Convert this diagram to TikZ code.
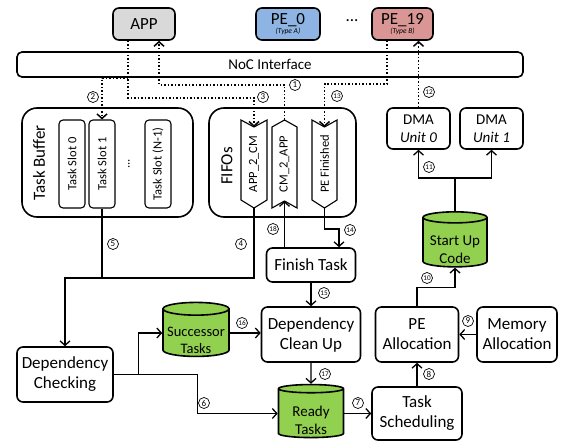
\documentclass[tikz,border=0pt]{standalone}
\usepackage{fontspec}
\setmainfont{Carlito}
\usetikzlibrary{arrows.meta,shapes.geometric}
\definecolor{appgray}{HTML}{D9D9D9}
\definecolor{peblue}{HTML}{8EB4E3}
\definecolor{pered}{HTML}{D99694}
\definecolor{dbgreen}{HTML}{92D050}
\newcommand{\dblabel}[1]{\raisebox{-12pt}[0pt][0pt]{\begin{tabular}{@{}c@{}}#1\end{tabular}}}
\begin{document}
\begin{tikzpicture}[x=1pt,y=-1pt,
  box/.style={draw,line width=1.6pt,rounded corners=6pt,fill=white,align=center,inner sep=1pt},
  big/.style={font=\fontsize{17}{20}\selectfont},
  med/.style={font=\fontsize{15}{18}\selectfont},
  small/.style={font=\fontsize{12.5}{14}\selectfont},
  slotbox/.style={draw,line width=1.1pt,rounded corners=4pt,minimum width=26pt,minimum height=88pt,inner sep=0pt,small},
  chev/.style={draw,line width=1.1pt,line join=miter},
  conn/.style={line width=1.3pt,-{Straight Barb[length=4.5pt,width=10pt]}},
  plainline/.style={line width=1.3pt},
  dots/.style={line width=1.5pt,dotted,-{Straight Barb[length=4.5pt,width=10pt]}},
  num/.style={circle,draw,fill=white,line width=0.7pt,inner sep=0pt,minimum size=11pt,font=\fontsize{9}{9}\selectfont},
  numtwo/.style={num,font=\fontsize{7.2}{7.2}\selectfont},
  db/.style={cylinder,shape border rotate=90,draw,line width=1.6pt,fill=dbgreen,aspect=0.22,inner sep=0pt}
]
\useasboundingbox[fill=white] (0,0) rectangle (567,441);

% top row
\node[box,big,fill=appgray,minimum width=62pt,minimum height=32pt] (app) at (144,24) {APP};
\node[box,fill=peblue,minimum width=64pt,minimum height=32pt,inner sep=0pt] (pe0) at (288,24)
  {{\fontsize{17}{17}\selectfont PE\_0}\\[-3pt]{\fontsize{7.5}{8}\selectfont\itshape (Type A)}};
\node[big] (pedots) at (352,21) {...};
\node[box,fill=pered,minimum width=61pt,minimum height=32pt,inner sep=0pt] (pe19) at (402.5,24)
  {{\fontsize{17}{17}\selectfont PE\_19}\\[-3pt]{\fontsize{7.5}{8}\selectfont\itshape (Type B)}};
\node[box,med,rounded corners=5pt,minimum width=506pt,minimum height=25pt] (noc) at (270,64.5) {NoC Interface};

% task buffer
\node[box,rounded corners=15pt,minimum width=171pt,minimum height=109pt] (tb) at (107.5,162.5) {};
\node[big] (tblab) at (39,163) {\rotatebox{90}{Task Buffer}};
\node[slotbox] (ts0) at (72,164) {\rotatebox{90}{Task Slot 0}};
\node[slotbox] (ts1) at (102,164) {\rotatebox{90}{Task Slot 1}};
\node[small] (tsdots) at (129,164) {\rotatebox{90}{...}};
\node[slotbox] (tsn) at (158,164) {\rotatebox{90}{Task Slot (N-1)}};

% FIFOs
\node[box,rounded corners=15pt,minimum width=147pt,minimum height=109pt] (fifo) at (282.5,162.5) {};
\node[big] (fifolab) at (227,166) {\rotatebox{90}{FIFOs}};
\draw[chev] (241,120) -- (254,127) -- (267,120) -- (267,200) -- (254,208) -- (241,200) -- cycle;
\draw[chev] (272,127) -- (284.5,120) -- (297,127) -- (297,208) -- (284.5,201) -- (272,208) -- cycle;
\draw[chev] (312,120) -- (324.5,127) -- (337,120) -- (337,200) -- (324.5,208) -- (312,200) -- cycle;
\node[small] (a2c) at (254,164) {\rotatebox{90}{APP\_2\_CM}};
\node[small] (c2a) at (284.5,164) {\rotatebox{90}{CM\_2\_APP}};
\node[small] (pef) at (324.5,164) {\rotatebox{90}{PE Finished}};
\coordinate (a2ctop) at (254,127);
\coordinate (a2cbot) at (254,208);
\coordinate (c2atop) at (284.5,120);
\coordinate (c2abot) at (284.5,201);
\coordinate (peftop) at (324.5,127);
\coordinate (pefbot) at (324.5,208);

% DMA
\node[box,med,minimum width=63pt,minimum height=41pt] (dma0) at (418.5,128.5) {DMA\\\textit{Unit 0}};
\node[box,med,minimum width=63pt,minimum height=41pt] (dma1) at (491.5,128.5) {DMA\\\textit{Unit 1}};
\node[db,med,minimum width=64pt,minimum height=55pt] (startup) at (455,242.5) {\dblabel{Start Up\\Code}};

% lower part
\node[box,big,minimum width=89pt,minimum height=34pt] (finish) at (311,265) {Finish Task};
\node[box,big,minimum width=96pt,minimum height=55pt] (depchk) at (65,374.5) {Dependency\\Checking};
\node[db,font=\fontsize{14.5}{17.5}\selectfont,minimum width=66pt,minimum height=54pt] (succ) at (196,333) {\dblabel{Successor\\Tasks}};
\node[box,big,minimum width=99pt,minimum height=55pt] (depcl) at (311,334.5) {Dependency\\Clean Up};
\node[db,med,minimum width=65pt,minimum height=53pt] (ready) at (311,413.5) {\dblabel{Ready\\Tasks}};
\node[box,big,minimum width=90pt,minimum height=53pt] (tsch) at (417,413.5) {Task\\Scheduling};
\node[box,big,minimum width=83pt,minimum height=55pt] (peal) at (417,334.5) {PE\\Allocation};
\node[box,big,minimum width=80pt,minimum height=55pt] (memal) at (517,334.5) {Memory\\Allocation};

% dotted connectors
\draw[dots] ([xshift=-16pt]app.south) -- ++(0,57) -| (a2ctop);
\coordinate (br2) at (128,78);
\draw[dots] (br2) -| (ts1.north);
\draw[dots] (c2atop) -- ++(0,-35) -| ([xshift=15pt]app.south);
\draw[dots] ([xshift=-15.5pt]pe19.south) -- ++(0,43) -| (peftop);
\draw[dots] (dma0.north) -- (dma0.north |- pe19.south);

% solid connectors
\draw[plainline] (ts1.south) -- ++(0,70);
\draw[conn] (a2cbot) -- ++(0,70) -| (depchk.north);
\draw[conn] (finish.north -| c2abot) -- (c2abot);
\draw[conn] (pefbot) -- ++(0,21) -| ([xshift=28pt]finish.north);
\draw[conn] (finish.south) -- (depcl.north);
\draw[conn] (depcl.south) -- (ready.north);
\draw[conn] (succ.east) -- (succ.east -| depcl.west);
\draw[conn] (depchk.east) -- ++(25,0) |- (succ.west);
\draw[conn] (depchk.east) -- ++(84,0) |- (ready.west);
\draw[conn] (ready.east) -- (tsch.west);
\draw[conn] (tsch.north) -- (peal.south);
\draw[conn] (memal.west) -- (peal.east);
\draw[conn] (peal.north) -- ++(0,-19) -| (startup.south);
\draw[conn] (startup.north) -- ++(0,-33) -| (dma0.south);
\draw[conn] (startup.north) -- ++(0,-33) -| (dma1.south);

% step numbers
\node[num] (n1) at (295,85) {1};
\node[num] (n2) at (93,97) {2};
\node[num] (n3) at (263,97) {3};
\node[num] (n4) at (241,244) {4};
\node[num] (n5) at (113,244) {5};
\node[num] (n6) at (204,403) {6};
\node[num] (n7) at (358,403) {7};
\node[num] (n8) at (429,374) {8};
\node[num] (n9) at (468,321) {9};
\node[numtwo] (n10) at (427,278) {10};
\node[numtwo] (n11) at (429,167) {11};
\node[numtwo] (n12) at (429,92) {12};
\node[numtwo] (n13) at (337,96) {13};
\node[numtwo] (n14) at (350,230) {14};
\node[numtwo] (n15) at (324,293) {15};
\node[numtwo] (n16) at (242,323) {16};
\node[numtwo] (n17) at (325,374) {17};
\node[numtwo] (n18) at (273,229) {18};
\end{tikzpicture}
\end{document}
